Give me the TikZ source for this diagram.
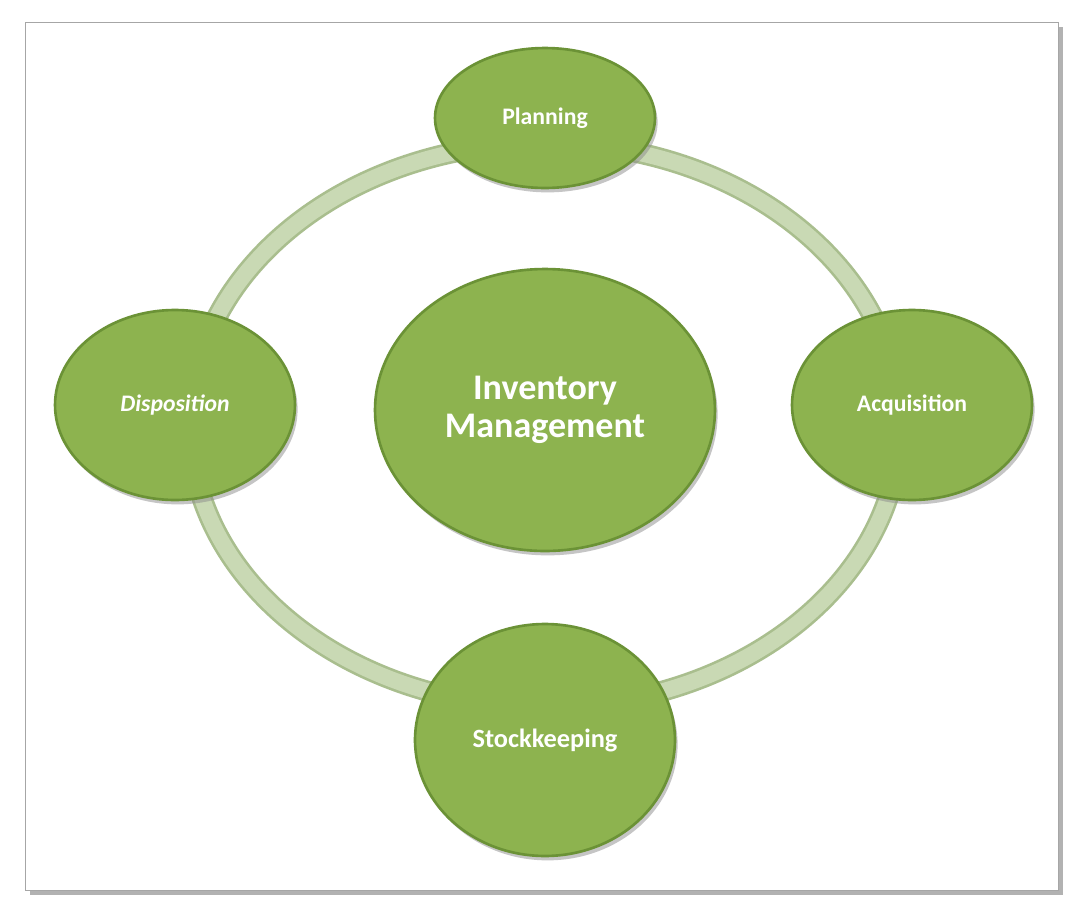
\documentclass[tikz,border=0pt]{standalone}
\usepackage{fontspec}
\setmainfont{Carlito}
\usetikzlibrary{shapes.geometric,shadows}
\definecolor{leaf}{HTML}{8DB34F}
\definecolor{leafdark}{HTML}{6B9236}
\definecolor{ringgreen}{HTML}{C9D9B4}
\definecolor{ringedge}{HTML}{A9BE8E}

\begin{document}
\begin{tikzpicture}[x=0.02cm,y=-0.02cm]
    \tikzstyle{disc}=[ellipse,draw=leafdark,line width=1.5pt,fill=leaf,text=white,font=\bfseries\fontsize{13.5}{15}\selectfont,inner sep=0pt,drop shadow={shadow xshift=1.5pt,shadow yshift=-2.5pt,fill=black!45,opacity=0.5}]
    \tikzstyle{hub}=[disc,font=\bfseries\fontsize{20.5}{22}\selectfont,align=center]

    \useasboundingbox (0,0) rectangle (1080,914);
    % Frame
    \fill[black!30] (30,27) rectangle (1063,895);
    \filldraw[draw=black!35,fill=white] (25,22) rectangle (1058,890);

    % Ring
    \coordinate (centre) at (545,425);
    \draw[ringedge,line width=12pt] (centre) ellipse [x radius=355,y radius=282];
    \draw[ringgreen,line width=9pt] (centre) ellipse [x radius=355,y radius=282];

    % Discs
    \node[hub,minimum width=6.8cm,minimum height=5.64cm] (inventory) at (545,410) {Inventory\\Management};
    \node[disc,minimum width=4.4cm,minimum height=2.8cm] (planning) at (545,118) {Planning};
    \node[disc,minimum width=4.8cm,minimum height=3.8cm] (acquisition) at (912,405) {Acquisition};
    \node[disc,minimum width=4.8cm,minimum height=3.8cm] (disposition) at (175,405) {\itshape Disposition};
    \node[disc,minimum width=5.2cm,minimum height=4.64cm] (stockkeeping) at (545,740) {\fontsize{15}{17}\selectfont Stockkeeping};
\end{tikzpicture}
\end{document}
